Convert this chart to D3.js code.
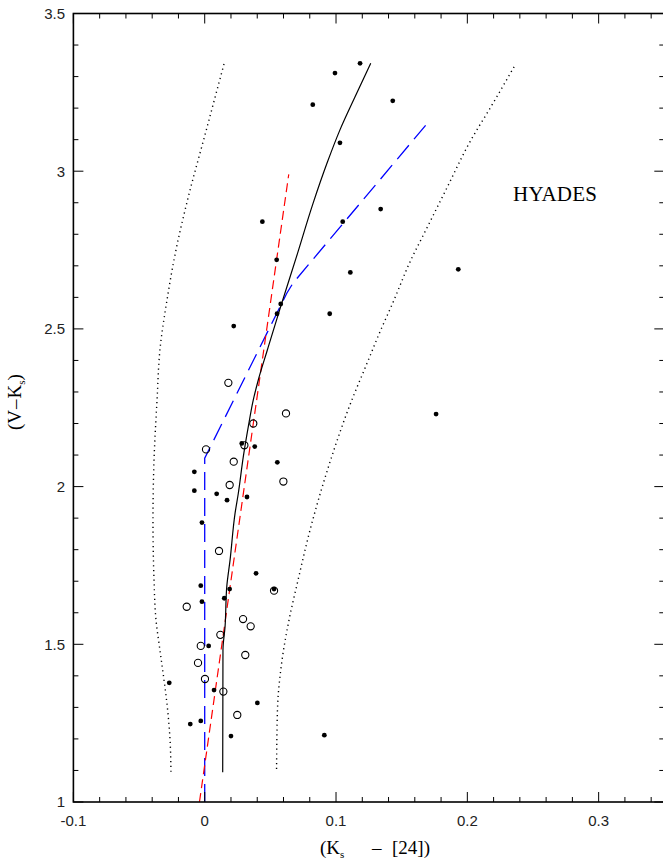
<!DOCTYPE html>
<html><head><meta charset="utf-8">
<script src="https://cdn.jsdelivr.net/npm/d3@7"></script>
<style>body{margin:0;background:#fff}svg{display:block}</style>
</head><body>
<script>
// ---- data ----
const filledX = [0.1183,0.0992,0.1432,0.0823,0.1030,0.0439,0.1051,0.1340,0.0548,0.1931,0.1109,0.0579,0.0551,0.0952,0.0221,0.1762,0.0282,0.0381,-0.0079,0.0553,-0.0079,0.0091,0.0170,0.0322,-0.0021,0.0391,-0.0030,0.0190,0.0528,-0.0021,0.0149,0.0030,-0.0270,0.0071,0.0401,-0.0110,-0.0030,0.0200,0.0911];
const filledY = [3.342,3.311,3.223,3.211,3.090,2.840,2.840,2.880,2.719,2.689,2.679,2.579,2.548,2.548,2.509,2.230,2.137,2.127,2.047,2.077,1.987,1.977,1.957,1.967,1.886,1.725,1.686,1.675,1.675,1.635,1.646,1.495,1.378,1.355,1.314,1.247,1.257,1.209,1.212];
const openX = [0.0180,0.0619,0.0370,0.0302,0.0010,0.0221,0.0599,0.0190,0.0109,-0.0137,0.0292,0.0350,0.0119,-0.0030,0.0309,-0.0051,0.0002,0.0142,0.0248,0.0528];
const openY = [2.329,2.232,2.200,2.131,2.118,2.079,2.016,2.005,1.796,1.619,1.580,1.557,1.530,1.495,1.466,1.441,1.390,1.350,1.276,1.670];
const blackX = [0.0137,0.0139,0.0155,0.0168,0.0193,0.0231,0.0256,0.0294,0.0332,0.0370,0.0408,0.0477,0.0586,0.0699,0.0825,0.0931,0.1030,0.1145,0.1264];
const blackY = [1.094,1.482,1.556,1.683,1.767,1.915,1.979,2.095,2.190,2.275,2.338,2.433,2.581,2.729,2.898,3.025,3.131,3.236,3.342];
const redX = [-0.004,0.064];
const redY = [1.0,2.99];
const blueX = [0.0,0.0,0.0625,0.0672,0.1716];
const blueY = [1.0,2.09,2.613,2.645,3.162];
const dotLX = [0.0147,0.0002,-0.0127,-0.0219,-0.0287,-0.0341,-0.0363,-0.0386,-0.0394,-0.0386,-0.0371,-0.0341,-0.0310,-0.0280,-0.0264,-0.0257];
const dotLY = [3.340,3.115,2.915,2.750,2.592,2.433,2.275,2.084,1.894,1.704,1.577,1.482,1.387,1.282,1.197,1.095];
const dotRX = [0.2356,0.2188,0.2021,0.1843,0.1691,0.1564,0.1436,0.1335,0.1246,0.1106,0.0935,0.0802,0.0711,0.0642,0.0589,0.0554,0.0547];
const dotRY = [3.331,3.210,3.094,2.946,2.819,2.713,2.586,2.491,2.401,2.259,2.053,1.862,1.704,1.577,1.450,1.292,1.095];
const xTickVals = [-0.1,0,0.1,0.2,0.3];
const xTickLabels = ["-0.1","0","0.1","0.2","0.3"];
const yTickVals = [1,1.5,2,2.5,3,3.5];
const yTickLabels = ["1","1.5","2","2.5","3","3.5"];

// ---- layout ----
const W = 663, H = 861;
const L = 73.4, R = 664.3, T = 13.5, B = 802;
const x = d3.scaleLinear().domain([-0.1,0.35]).range([L,R]);
const y = d3.scaleLinear().domain([1,3.5]).range([B,T]);

const svg = d3.select("body").append("svg").attr("width",W).attr("height",H);
const defs = svg.append("defs");
defs.append("clipPath").attr("id","clip").append("rect").attr("x",L).attr("y",T).attr("width",R-L).attr("height",B-T);

const g = svg.append("g").attr("clip-path","url(#clip)");
const zip = (a,b)=>a.map((v,i)=>[v,b[i]]);
const line = d3.line().x(d=>x(d[0])).y(d=>y(d[1]));
const curve = d3.line().x(d=>x(d[0])).y(d=>y(d[1])).curve(d3.curveMonotoneY);

g.append("path").attr("d",curve(zip(dotLX,dotLY))).attr("fill","none").attr("stroke","#000").attr("stroke-width",1.4).attr("stroke-dasharray","1.2,3.6");
g.append("path").attr("d",curve(zip(dotRX,dotRY))).attr("fill","none").attr("stroke","#000").attr("stroke-width",1.4).attr("stroke-dasharray","1.2,3.6");
g.append("path").attr("d",line(zip(blueX,blueY))).attr("fill","none").attr("stroke","#0000ff").attr("stroke-width",1.3).attr("stroke-dasharray","18,8");
g.append("path").attr("d",line(zip(redX,redY))).attr("fill","none").attr("stroke","#ff0000").attr("stroke-width",1.2).attr("stroke-dasharray","9,5");
g.append("path").attr("d",curve(zip(blackX,blackY))).attr("fill","none").attr("stroke","#000").attr("stroke-width",1.2);

g.selectAll("circle.o").data(zip(openX,openY)).enter().append("circle")
  .attr("cx",d=>x(d[0])).attr("cy",d=>y(d[1])).attr("r",3.6)
  .attr("fill","none").attr("stroke","#000").attr("stroke-width",1.1);
g.selectAll("circle.f").data(zip(filledX,filledY)).enter().append("circle")
  .attr("cx",d=>x(d[0])).attr("cy",d=>y(d[1])).attr("r",2.4).attr("fill","#000");

// axes (ticks inward on all sides)
const xMinor = d3.range(-0.1,0.351,0.02).map(v=>+v.toFixed(3));
const yMinor = d3.range(1,3.501,0.1).map(v=>+v.toFixed(2));
const isMajX = v => xTickVals.some(t=>Math.abs(t-v)<1e-6);
const isMajY = v => yTickVals.some(t=>Math.abs(t-v)<1e-6);

const ax = svg.append("g");
ax.append("rect").attr("x",L).attr("y",T).attr("width",R-L).attr("height",B-T).attr("fill","none").attr("stroke","#000").attr("stroke-width",1.6);
xMinor.forEach(v=>{
  const len = isMajX(v)?10:5; const px = x(v);
  ax.append("line").attr("x1",px).attr("x2",px).attr("y1",B).attr("y2",B-len).attr("stroke","#000").attr("stroke-width",1);
  ax.append("line").attr("x1",px).attr("x2",px).attr("y1",T).attr("y2",T+len).attr("stroke","#000").attr("stroke-width",1);
});
yMinor.forEach(v=>{
  const len = isMajY(v)?10:5; const py = y(v);
  ax.append("line").attr("x1",L).attr("x2",L+len).attr("y1",py).attr("y2",py).attr("stroke","#000").attr("stroke-width",1);
  ax.append("line").attr("x1",R).attr("x2",R-len).attr("y1",py).attr("y2",py).attr("stroke","#000").attr("stroke-width",1);
});
ax.selectAll("text.xl").data(xTickVals).enter().append("text")
  .attr("x",d=>x(d)).attr("y",826).attr("text-anchor","middle")
  .attr("font-family","'Liberation Sans',Arial,sans-serif").attr("font-size",15).attr("fill","#222")
  .text((d,i)=>xTickLabels[i]);
ax.selectAll("text.yl").data(yTickVals).enter().append("text")
  .attr("x",65).attr("y",d=>y(d)+5.3).attr("text-anchor","end")
  .attr("font-family","'Liberation Sans',Arial,sans-serif").attr("font-size",15).attr("fill","#222")
  .text((d,i)=>yTickLabels[i]);

// axis titles
const xt = svg.append("text").attr("y",854)
  .attr("font-family","'Liberation Serif','Times New Roman',serif").attr("font-size",19).attr("fill","#000");
xt.append("tspan").attr("x",320).text("(K");
xt.append("tspan").attr("font-size",11).attr("dy",4).text("s");
xt.append("tspan").attr("x",372).attr("dy",-4).text("\u2013");
xt.append("tspan").attr("x",392).text("[24])");

const yt = svg.append("text").attr("transform","translate(21,430) rotate(-90)")
  .attr("font-family","'Liberation Serif','Times New Roman',serif").attr("font-size",19).attr("fill","#000");
yt.append("tspan").text("(V");
yt.append("tspan").attr("dx",1).text("\u2013");
yt.append("tspan").attr("dx",1).text("K");
yt.append("tspan").attr("font-size",11).attr("dy",4).text("s");
yt.append("tspan").attr("dy",-4).text(")");

svg.append("text").attr("x",513).attr("y",201).attr("font-family","'Liberation Serif','Times New Roman',serif")
  .attr("font-size",21).attr("fill","#000").attr("textLength",84).text("HYADES");
</script>
</body></html>
